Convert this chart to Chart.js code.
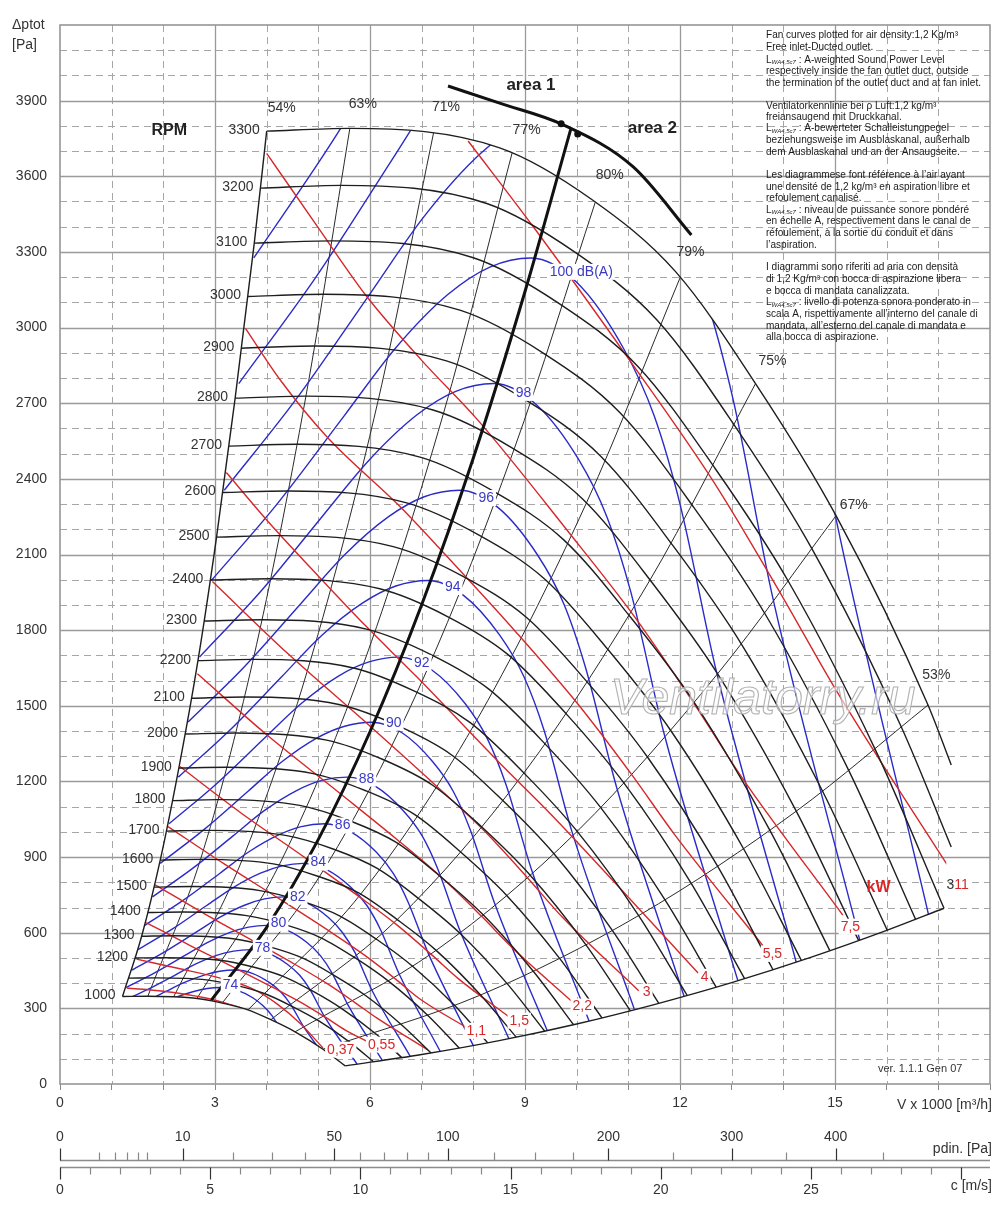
<!DOCTYPE html>
<html>
<head>
<meta charset="utf-8">
<title>Fan performance curves</title>
<script src="https://cdn.jsdelivr.net/npm/chart.js@4.4.1/dist/chart.umd.min.js"></script>
<style>
  html, body { margin: 0; padding: 0; background: #fff; }
  #wrap { width: 1000px; height: 1208px; }
</style>
</head>
<body>
<div id="wrap"><canvas id="fanChart" width="1000" height="1208"></canvas></div>
<script>
// Fan curve diagram: V x 1000 [m3/h] against total pressure [Pa]

// ---- axis ticks ----
const flowTicks = [0, 3, 6, 9, 12, 15];
const pressureTicks = [0, 300, 600, 900, 1200, 1500, 1800, 2100, 2400, 2700, 3000, 3300, 3600, 3900];
const pdinMajor = [0, 10, 50, 100, 200, 300, 400];
const pdinMinor = [1, 2, 3, 4, 5, 20, 30, 40, 60, 70, 80, 90, 125, 150, 175, 250, 350, 450];
const speedLabels = [0, 5, 10, 15, 20, 25];

// ---- fan speed curves (rpm) ----
const rpmValues = [1000, 1100, 1200, 1300, 1400, 1500, 1600, 1700, 1800, 1900, 2000, 2100,
                   2200, 2300, 2400, 2500, 2600, 2700, 2800, 2900, 3000, 3100, 3200, 3300];
const rpmCurves = [
  [[1.21,347],[1.70,348],[2.58,341],[3.12,322],[3.61,296],[4.09,254],[4.55,207],[5.09,138],[5.52,72]],
  [[1.33,420],[1.87,421],[2.84,413],[3.43,390],[3.97,358],[4.50,307],[5.01,250],[5.60,167],[6.07,88]],
  [[1.45,500],[2.04,501],[3.10,491],[3.74,464],[4.33,426],[4.91,366],[5.46,298],[6.11,199],[6.62,104]],
  [[1.58,586],[2.21,588],[3.35,576],[4.06,544],[4.69,500],[5.32,429],[5.92,350],[6.62,233],[7.18,123]],
  [[1.70,680],[2.38,682],[3.61,668],[4.37,631],[5.05,580],[5.73,498],[6.37,406],[7.13,270],[7.73,142]],
  [[1.82,781],[2.55,783],[3.87,767],[4.68,725],[5.42,666],[6.14,572],[6.83,466],[7.64,311],[8.28,163]],
  [[1.94,888],[2.72,891],[4.13,873],[4.99,824],[5.78,758],[6.54,650],[7.28,530],[8.14,353],[8.83,186]],
  [[2.06,1003],[2.89,1006],[4.39,985],[5.30,931],[6.14,855],[6.95,734],[7.74,598],[8.65,399],[9.38,210]],
  [[2.18,1124],[3.06,1128],[4.64,1105],[5.62,1043],[6.50,959],[7.36,823],[8.19,671],[9.16,447],[9.94,235]],
  [[2.30,1253],[3.23,1256],[4.90,1231],[5.93,1162],[6.86,1069],[7.77,917],[8.65,747],[9.67,498],[10.49,262]],
  [[2.42,1388],[3.40,1392],[5.16,1364],[6.24,1288],[7.22,1184],[8.18,1016],[9.10,828],[10.18,552],[11.04,290]],
  [[2.55,1530],[3.57,1535],[5.42,1504],[6.55,1420],[7.58,1305],[8.59,1120],[9.56,913],[10.69,609],[11.59,320]],
  [[2.67,1679],[3.74,1684],[5.68,1650],[6.86,1558],[7.94,1433],[9.00,1229],[10.01,1002],[11.20,668],[12.14,351]],
  [[2.79,1836],[3.91,1841],[5.93,1804],[7.18,1703],[8.30,1566],[9.41,1344],[10.47,1095],[11.71,730],[12.70,384]],
  [[2.91,1999],[4.08,2004],[6.19,1964],[7.49,1855],[8.66,1705],[9.82,1463],[10.92,1192],[12.22,795],[13.25,418]],
  [[3.03,2169],[4.25,2175],[6.45,2131],[7.80,2013],[9.03,1850],[10.23,1588],[11.38,1294],[12.73,863],[13.80,453]],
  [[3.15,2346],[4.42,2352],[6.71,2305],[8.11,2177],[9.39,2001],[10.63,1717],[11.83,1399],[13.23,933],[14.35,490]],
  [[3.27,2530],[4.59,2537],[6.97,2486],[8.42,2347],[9.75,2158],[11.04,1852],[12.29,1509],[13.74,1006],[14.90,529]],
  [[3.39,2720],[4.76,2728],[7.22,2673],[8.74,2524],[10.11,2321],[11.45,1991],[12.74,1623],[14.25,1082],[15.46,568]],
  [[3.51,2918],[4.93,2927],[7.48,2868],[9.05,2708],[10.47,2489],[11.86,2136],[13.20,1741],[14.76,1161],[16.01,610]],
  [[3.64,3123],[5.10,3132],[7.74,3069],[9.36,2898],[10.83,2664],[12.27,2286],[13.65,1863],[15.27,1242],[16.56,653]],
  [[3.76,3335],[5.27,3344],[8.00,3277],[9.67,3094],[11.19,2845],[12.68,2441],[14.11,1989],[15.78,1326],[17.11,697]],
  [[3.88,3553],[5.44,3564],[8.26,3492],[9.98,3297],[11.55,3031],[13.09,2601],[14.56,2120],[16.29,1413],[17.25,940]],
  [[4.00,3779],[5.61,3790],[8.51,3713],[10.30,3507],[11.91,3223],[13.50,2766],[15.02,2254],[16.80,1503],[17.25,1265]]
];

// lower limit of the field (system curve)
const lowerLimit = [[5.52,72],[7.0,117],[8.5,172],[10.0,238],[11.5,315],[13.0,402],[14.5,500],[16.0,609],[17.11,697]];

// ---- efficiency lines ----
const effLabels = ['54%', '63%', '71%', '77%', '80%', '79%', '75%', '67%', '53%'];
const leftLimit = [[1.21,347],[1.58,586],[1.94,888],[2.30,1253],[2.67,1679],[3.03,2169],[3.39,2720],[3.76,3335],[4.00,3779]];
const effLines = [
  [[1.70,348],[2.72,891],[3.74,1684],[4.76,2728],[5.61,3790]],
  [[2.20,346],[3.52,886],[4.84,1675],[6.16,2713],[7.23,3772]],
  [[2.65,339],[4.24,868],[5.83,1641],[7.42,2658],[8.75,3692]],
  [[3.14,321],[5.02,822],[6.91,1553],[8.79,2518],[10.36,3497]],
  [[3.64,294],[5.82,753],[8.01,1423],[10.19,2305],[12.01,3202]],
  [[4.08,255],[6.53,653],[8.98,1234],[11.42,1999],[13.46,2777]],
  [[4.55,207],[7.28,530],[10.01,1002],[12.74,1630],[15.02,2254]],
  [[5.09,138],[8.14,353],[11.20,668],[14.25,1082],[16.80,1503]]
];

// ---- sound power level curves, dB(A) ----
const dbLevels = [74, 76, 78, 80, 82, 84, 86, 88, 90, 92, 94, 96, 98, 100, 102, 104, 106];
const dbLabelText = ['74', '', '78', '80', '82', '84', '86', '88', '90', '92', '94', '96', '98', '100 dB(A)', '', '', ''];
const dbCurves = [
  [[1.00,234],[1.44,269],[1.88,310],[2.22,342],[2.57,366],[2.85,379],[3.12,383],[3.42,372],[3.73,342],[3.93,310],[4.11,269],[4.34,192],[4.87,57]],
  [[1.09,276],[1.56,317],[2.04,366],[2.41,403],[2.79,432],[3.09,447],[3.39,452],[3.72,439],[4.05,403],[4.27,366],[4.46,317],[4.72,226],[5.29,67]],
  [[1.18,325],[1.69,374],[2.22,431],[2.62,475],[3.03,510],[3.36,527],[3.68,533],[4.04,518],[4.40,475],[4.64,431],[4.84,374],[5.12,267],[5.75,79]],
  [[1.28,383],[1.84,442],[2.41,509],[2.85,561],[3.29,601],[3.65,622],[4.00,629],[4.38,611],[4.78,561],[5.04,509],[5.26,442],[5.57,315],[6.24,93]],
  [[1.39,452],[2.00,521],[2.62,600],[3.09,661],[3.57,709],[3.96,734],[4.34,742],[4.76,720],[5.19,661],[5.47,600],[5.71,521],[6.04,371],[6.78,109]],
  [[1.51,533],[2.17,614],[2.84,708],[3.36,780],[3.88,836],[4.30,865],[4.71,875],[5.17,849],[5.63,780],[5.94,708],[6.20,614],[6.56,438],[7.36,129]],
  [[1.64,629],[2.36,725],[3.09,835],[3.65,920],[4.21,986],[4.67,1021],[5.12,1032],[5.61,1002],[6.12,920],[6.45,835],[6.73,725],[7.13,517],[8.00,152]],
  [[1.79,742],[2.56,854],[3.35,984],[3.96,1085],[4.57,1163],[5.07,1204],[5.56,1217],[6.10,1181],[6.64,1085],[7.01,984],[7.31,854],[7.74,609],[8.69,179]],
  [[1.94,875],[2.78,1008],[3.64,1161],[4.30,1279],[4.96,1371],[5.51,1419],[6.04,1435],[6.62,1393],[7.21,1279],[7.61,1161],[7.94,1008],[8.41,718],[9.43,212]],
  [[2.11,1032],[3.02,1189],[3.95,1370],[4.67,1509],[5.39,1618],[5.98,1674],[6.56,1693],[7.19,1643],[7.84,1509],[8.27,1370],[8.63,1189],[9.13,848],[10.24,250]],
  [[2.29,1217],[3.28,1402],[4.29,1615],[5.07,1780],[5.86,1908],[6.50,1975],[7.12,1997],[7.81,1938],[8.51,1780],[8.98,1615],[9.37,1402],[9.91,1000],[11.12,294]],
  [[2.48,1436],[3.56,1653],[4.66,1905],[5.51,2099],[6.36,2250],[7.05,2329],[7.73,2355],[8.48,2286],[9.24,2099],[9.75,1905],[10.17,1653],[10.77,1179],[12.08,347]],
  [[2.70,1693],[3.87,1950],[5.06,2247],[5.99,2476],[6.91,2654],[7.66,2747],[8.40,2778],[9.21,2696],[10.04,2476],[10.59,2247],[11.05,1950],[11.69,1391],[13.12,410]],
  [[2.93,1997],[4.20,2300],[5.50,2650],[6.50,2920],[7.50,3130],[8.32,3240],[9.12,3276],[10.00,3180],[10.90,2920],[11.50,2650],[12.00,2300],[12.70,1640],[14.25,483]],
  [[3.18,2355],[4.56,2713],[5.97,3125],[7.06,3444],[8.15,3692],[9.04,3821],[9.90,3864],[10.86,3750],[11.84,3444],[12.49,3125],[13.03,2713],[13.79,1934],[15.48,570]],
  [[3.46,2778],[4.95,3199],[6.49,3686],[7.67,4062],[8.85,4354],[9.81,4507],[10.76,4557],[11.79,4423],[12.86,4062],[13.56,3686],[14.15,3199],[14.98,2281],[16.81,672]],
  [[3.75,3276],[5.38,3773],[7.04,4347],[8.33,4790],[9.61,5135],[10.66,5315],[11.68,5374],[12.81,5217],[13.96,4790],[14.73,4347],[15.37,3773],[16.27,2690],[18.25,792]]
];

// ---- absorbed power lines, kW ----
const kwLabels = ['', '0,37', '0,55', '', '1,1', '1,5', '2,2', '3', '4', '5,5', '7,5', '11'];
const kwLines = [
  [[1.29,381],[2.00,368],[2.80,342],[3.52,302]],
  [[1.48,495],[2.30,458],[3.10,420],[3.70,380],[4.20,318],[4.65,240],[5.09,143]],
  [[1.67,640],[2.51,550],[3.39,460],[4.10,385],[4.67,323],[5.15,263],[5.53,213],[5.95,168]],
  [[1.84,790],[2.79,676],[3.76,565],[4.55,474],[5.18,397],[5.71,323],[6.13,262],[7.12,135]],
  [[2.09,1021],[3.17,874],[4.27,731],[5.17,612],[5.88,513],[6.49,417],[6.96,338],[7.90,220]],
  [[2.32,1259],[3.51,1074],[4.74,898],[5.73,752],[6.52,631],[7.19,513],[7.72,416],[8.68,268]],
  [[2.66,1627],[3.99,1387],[5.38,1159],[6.51,972],[7.41,815],[8.17,663],[8.77,537],[9.92,325]],
  [[2.95,1993],[4.42,1705],[5.97,1425],[7.22,1194],[8.22,1002],[9.06,815],[9.73,660],[11.20,370]],
  [[3.22,2425],[4.00,2237],[5.03,2008],[5.93,1814],[6.90,1616],[8.51,1273],[9.50,1070],[10.71,805],[12.35,440]],
  [[3.59,2997],[4.26,2793],[5.16,2568],[6.58,2290],[7.30,2134],[8.84,1789],[10.05,1500],[11.09,1220],[11.90,988],[13.60,550]],
  [[4.00,3691],[5.00,3395],[5.93,3125],[7.00,2870],[8.10,2630],[9.80,2200],[11.15,1845],[12.30,1500],[13.20,1215],[15.15,670]],
  [[7.90,3740],[9.20,3389],[11.13,2840],[12.67,2382],[13.97,1937],[15.00,1569],[17.28,835]]
];

// ---- area 1 / area 2 divide ----
const areaDivide = [[2.93,333],[4.0,621],[5.0,970],[6.0,1397],[7.0,1901],[8.0,2483],[9.0,3143],[9.89,3790]];
const areaArc = [[7.51,3958],[8.51,3890],[9.74,3804],[11.09,3638],[12.22,3367]];
const arcMarks = [[9.70,3808],[10.02,3768]];

// ---- label anchors (left edge, vertical middle), chart units ----
const effLabelAt = [[4.02,3872],[5.59,3887],[7.20,3875],[8.76,3784],[10.37,3606],[11.93,3299],[13.52,2865],[15.09,2297],[16.69,1623]];
const dbLabelAt = [[3.15,393],null,[3.77,540],[4.08,636],[4.45,743],[4.85,878],[5.32,1025],[5.78,1211],[6.31,1433],
                   [6.85,1670],[7.45,1971],[8.10,2324],[8.82,2741],[9.48,3221],null,null,null];
const kwLabelAt = [null,[5.17,136],[5.96,156],null,[7.87,211],[8.70,251],[9.92,307],[11.28,366],[12.40,425],[13.60,516],[15.11,624],[17.31,787]];

const noteLines = [
  [35.7, 'Fan curves plotted for air density:1,2 Kg/m³'],
  [47.7, 'Free inlet-Ducted outlet.'],
  [59.8, '§ : A-weighted Sound Power Level'],
  [71.3, 'respectively inside the fan outlet duct, outside'],
  [82.8, 'the termination of the outlet duct and at fan inlet.'],
  [106.5, 'Ventilatorkennlinie bei ρ Luft:1,2 kg/m³'],
  [117.5, 'freiansaugend mit Druckkanal.'],
  [128.5, '§ : A-bewerteter Schalleistungpegel'],
  [140.0, 'beziehungsweise im Ausblaskanal, außerhalb'],
  [152.5, 'dem Ausblaskanal und an der Ansaugseite.'],
  [175.5, 'Les diagrammese font référence à l’air ayant'],
  [186.8, 'une densité de 1,2 kg/m³ en aspiration libre et'],
  [198.3, 'refoulement canalisé.'],
  [210.0, '§ : niveau de puissance sonore pondéré'],
  [221.7, 'en échelle A, respectivement dans le canal de'],
  [233.3, 'réfoulement, à la sortie du conduit et dans'],
  [245.0, 'l’aspiration.'],
  [267.7, 'I diagrammi sono riferiti ad aria con densità'],
  [279.3, 'di 1,2 Kg/m³ con bocca di aspirazione libera'],
  [291.0, 'e bocca di mandata canalizzata.'],
  [302.7, '§ : livello di potenza sonora ponderato in'],
  [314.3, 'scala A, rispettivamente all’interno del canale di'],
  [326.0, 'mandata, all’esterno del canale di mandata e'],
  [337.3, 'alla bocca di aspirazione.']
];

const FONT = '"Liberation Sans", Arial, Helvetica, sans-serif';
const BLACK = '#1e1e1e';
const BLUE = '#2b2bc8';
const BLUE_TXT = '#3a3ac4';
const RED = '#d6282a';
const GREY_TXT = '#333333';

Chart.defaults.font.family = FONT;

// ---- datasets ----
const datasets = [];
const IDX = {};

function addSeries(points, style) {
  datasets.push(Object.assign({
    data: points.map(p => ({ x: p[0], y: p[1] })),
    xAxisID: 'x',
    yAxisID: 'y',
    borderWidth: 1.4,
    pointRadius: 0,
    fill: false,
    cubicInterpolationMode: 'monotone'
  }, style));
  return datasets.length - 1;
}

effLines.forEach(pts => addSeries(pts, { borderColor: '#2a2a2a', borderWidth: 1, order: 60, clipField: true }));
dbCurves.forEach(pts => addSeries(pts, { borderColor: BLUE, order: 50, clipField: true }));
kwLines.forEach(pts => addSeries(pts, { borderColor: RED, order: 40, clipField: true }));
rpmCurves.forEach((pts, i) => {
  const k = addSeries(pts, { borderColor: BLACK, order: 30 });
  if (i === 0) IDX.low = k;
  if (i === rpmCurves.length - 1) IDX.high = k;
});
IDX.lower = addSeries(lowerLimit, { borderColor: BLACK, order: 30 });
IDX.left = addSeries(leftLimit, { borderColor: BLACK, order: 30 });
addSeries(areaDivide, { borderColor: '#111', borderWidth: 3, order: 10 });
addSeries(areaArc, { borderColor: '#111', borderWidth: 3, order: 10 });
addSeries(arcMarks, { showLine: false, pointRadius: 3.5, pointBackgroundColor: '#111', pointBorderWidth: 0, order: 5 });

// ---- helpers for drawing ----
function addPath(chart, idx, reverse, move) {
  const ctx = chart.ctx;
  const meta = chart.getDatasetMeta(idx);
  const line = meta.dataset;
  try {
    line.updateControlPoints(chart.chartArea, 'x');
    line.pathSegment(ctx, line.segments[0], { move: move, reverse: reverse });
  } catch (e) {
    const pts = meta.data.slice();
    if (reverse) pts.reverse();
    pts.forEach((p, i) => {
      if (i === 0 && move) ctx.moveTo(p.x, p.y);
      else ctx.lineTo(p.x, p.y);
    });
  }
}

// outline of the working field, used to clip the iso-lines
function traceField(chart) {
  const ctx = chart.ctx;
  ctx.beginPath();
  addPath(chart, IDX.low, false, true);
  addPath(chart, IDX.lower, false, false);
  addPath(chart, IDX.high, true, false);
  addPath(chart, IDX.left, true, false);
  ctx.closePath();
}

function drawGrid(chart) {
  const { ctx, chartArea: a, scales: { x, y } } = chart;
  ctx.save();
  for (let v = 1; v < 18; v++) {
    const px = Math.round(x.getPixelForValue(v)) + 0.5;
    const major = v % 3 === 0;
    ctx.setLineDash(major ? [] : [7, 5]);
    ctx.strokeStyle = major ? '#9a9a9a' : '#a6a6a6';
    ctx.lineWidth = major ? 1.3 : 1;
    ctx.beginPath(); ctx.moveTo(px, a.top); ctx.lineTo(px, a.bottom); ctx.stroke();
  }
  for (let v = 100; v < 4200; v += 100) {
    const py = Math.round(y.getPixelForValue(v)) + 0.5;
    const major = v % 300 === 0;
    ctx.setLineDash(major ? [] : [7, 5]);
    ctx.strokeStyle = major ? '#9a9a9a' : '#a6a6a6';
    ctx.lineWidth = major ? 1.3 : 1;
    ctx.beginPath(); ctx.moveTo(a.left, py); ctx.lineTo(a.right, py); ctx.stroke();
  }
  ctx.setLineDash([]);
  ctx.strokeStyle = '#969696';
  ctx.lineWidth = 1.6;
  ctx.strokeRect(a.left, a.top, a.right - a.left, a.bottom - a.top);
  ctx.restore();
}

function boxText(ctx, text, px, py, color) {
  const w = ctx.measureText(text).width;
  ctx.fillStyle = '#fff';
  ctx.fillRect(px - 2, py - 8, w + 4, 16);
  ctx.fillStyle = color;
  ctx.fillText(text, px, py);
}

function drawLabels(chart) {
  const { ctx, scales: { x, y } } = chart;
  const X = v => x.getPixelForValue(v);
  const Y = v => y.getPixelForValue(v);
  ctx.save();
  ctx.textBaseline = 'middle';
  ctx.textAlign = 'left';

  // watermark
  ctx.font = 'italic 50px ' + FONT;
  ctx.lineWidth = 1.1;
  ctx.fillStyle = 'rgba(255,255,255,0.6)';
  ctx.strokeStyle = 'rgba(170,170,170,0.9)';
  ctx.fillText('Ventilatorry.ru', 610, 700, 322);
  ctx.strokeText('Ventilatorry.ru', 610, 700, 322);

  // sound level labels
  ctx.font = '14px ' + FONT;
  dbLabelText.forEach((t, i) => {
    const p = dbLabelAt[i];
    if (t && p) boxText(ctx, t, X(p[0]), Y(p[1]), BLUE_TXT);
  });

  // power labels
  kwLabels.forEach((t, i) => {
    const p = kwLabelAt[i];
    if (t && p) boxText(ctx, t, X(p[0]), Y(p[1]), RED);
  });
  ctx.fillStyle = GREY_TXT;
  ctx.fillText('3', X(17.16), Y(790));
  ctx.font = 'bold 16px ' + FONT;
  ctx.fillStyle = RED;
  ctx.fillText('kW', X(15.61), Y(779));

  // efficiency labels
  ctx.font = '14px ' + FONT;
  ctx.fillStyle = GREY_TXT;
  effLabels.forEach((t, i) => {
    const p = effLabelAt[i];
    ctx.fillText(t, X(p[0]), Y(p[1]));
  });

  // rpm labels
  ctx.textAlign = 'right';
  rpmValues.forEach((v, i) => {
    if (v === 1100) return;
    const p = rpmCurves[i][0];
    ctx.fillText(String(v), X(p[0]) - 7, Y(p[1]) - 1);
  });

  ctx.textAlign = 'left';
  ctx.font = 'bold 16px ' + FONT;
  ctx.fillStyle = '#222';
  ctx.fillText('RPM', X(1.77), Y(3781));
  ctx.font = 'bold 17px ' + FONT;
  ctx.fillText('area 1', X(8.64), Y(3962));
  ctx.fillText('area 2', X(10.99), Y(3790));

  ctx.font = '11px ' + FONT;
  ctx.fillStyle = GREY_TXT;
  ctx.fillText('ver. 1.1.1 Gen 07', 878, 1069);
  ctx.restore();
}

function drawNotes(chart) {
  const ctx = chart.ctx;
  ctx.save();
  ctx.font = '10px ' + FONT;
  const sx = 215 / ctx.measureText('the termination of the outlet duct and at fan inlet.').width;
  ctx.fillStyle = '#1a1a1a';
  ctx.textBaseline = 'middle';
  ctx.textAlign = 'left';
  noteLines.forEach(([py, text]) => {
    ctx.save();
    ctx.translate(766, py);
    ctx.scale(sx, 1);
    let cx = 0;
    let rest = text;
    if (rest.charAt(0) === '§') {
      ctx.font = '10px ' + FONT;
      ctx.fillText('L', 0, 0);
      cx = ctx.measureText('L').width;
      ctx.font = 'italic 6px ' + FONT;
      ctx.fillText('WA4,5c7', cx, 2.5);
      cx += ctx.measureText('WA4,5c7').width;
      rest = rest.slice(1);
    }
    ctx.font = '10px ' + FONT;
    ctx.fillText(rest, cx, 0);
    ctx.restore();
  });
  ctx.restore();
}

function drawAxisTitles(chart) {
  const ctx = chart.ctx;
  ctx.save();
  ctx.fillStyle = GREY_TXT;
  ctx.textBaseline = 'middle';
  ctx.font = '14px ' + FONT;
  ctx.textAlign = 'left';
  ctx.fillText('\u0394ptot', 12, 25);
  ctx.fillText('[Pa]', 12, 45);
  ctx.textAlign = 'right';
  ctx.fillText('V x 1000 [m³/h]', 992, 1105);
  ctx.restore();
}

function drawExtraAxes(chart) {
  const ctx = chart.ctx;
  const cs = chart.scales.c;
  const C = v => cs.getPixelForValue(v);
  const yP = 1160.5, yC = 1167.5;
  const left = C(0), right = chart.chartArea.right;
  ctx.save();
  ctx.strokeStyle = '#8c8c8c';
  ctx.lineWidth = 1.6;
  ctx.beginPath();
  ctx.moveTo(left, yP); ctx.lineTo(right, yP);
  ctx.moveTo(left, yC); ctx.lineTo(right, yC);
  ctx.stroke();

  // dynamic pressure: pdin = 0.6 * c^2
  ctx.lineWidth = 1.2;
  ctx.strokeStyle = '#333';
  pdinMajor.forEach(p => {
    const px = Math.round(C(Math.sqrt(p / 0.6))) + 0.5;
    ctx.beginPath(); ctx.moveTo(px, yP - 12); ctx.lineTo(px, yP); ctx.stroke();
  });
  ctx.strokeStyle = '#888';
  pdinMinor.forEach(p => {
    const px = Math.round(C(Math.sqrt(p / 0.6))) + 0.5;
    ctx.beginPath(); ctx.moveTo(px, yP - 8); ctx.lineTo(px, yP); ctx.stroke();
  });

  // velocity ticks
  for (let v = 0; v <= 30; v++) {
    const px = Math.round(C(v)) + 0.5;
    const major = v % 5 === 0;
    ctx.strokeStyle = major ? '#333' : '#888';
    ctx.beginPath(); ctx.moveTo(px, yC); ctx.lineTo(px, yC + (major ? 12 : 7)); ctx.stroke();
  }

  ctx.fillStyle = GREY_TXT;
  ctx.font = '14px ' + FONT;
  ctx.textBaseline = 'middle';
  ctx.textAlign = 'center';
  pdinMajor.forEach(p => ctx.fillText(String(p), C(Math.sqrt(p / 0.6)), 1137));
  speedLabels.forEach(v => ctx.fillText(String(v), C(v), 1190));
  ctx.textAlign = 'right';
  ctx.fillText('pdin. [Pa]', 992, 1149);
  ctx.fillText('c [m/s]', 992, 1186);
  ctx.restore();
}

const fanPlugin = {
  id: 'fanDecor',
  beforeDatasetsDraw(chart) { drawGrid(chart); },
  beforeDatasetDraw(chart, args) {
    const ds = chart.data.datasets[args.index];
    if (ds.clipField) {
      chart.ctx.save();
      traceField(chart);
      chart.ctx.clip();
    }
  },
  afterDatasetDraw(chart, args) {
    const ds = chart.data.datasets[args.index];
    if (ds.clipField) chart.ctx.restore();
  },
  afterDatasetsDraw(chart) { drawLabels(chart); },
  afterDraw(chart) {
    drawNotes(chart);
    drawAxisTitles(chart);
    drawExtraAxes(chart);
  }
};

new Chart(document.getElementById('fanChart'), {
  type: 'line',
  data: { datasets: datasets },
  options: {
    responsive: false,
    animation: false,
    events: [],
    parsing: false,
    layout: { padding: { top: 25, right: 10, left: 0, bottom: 0 } },
    plugins: { legend: { display: false }, tooltip: { enabled: false } },
    scales: {
      x: {
        type: 'linear',
        min: 0,
        max: 18,
        afterFit: s => { s.height = 124; },
        border: { display: false },
        grid: { drawOnChartArea: false, drawTicks: true, tickLength: 6, color: '#888' },
        ticks: {
          stepSize: 1,
          autoSkip: false,
          maxRotation: 0,
          padding: 5,
          color: GREY_TXT,
          font: { size: 14 },
          callback: v => flowTicks.includes(v) ? String(v) : ''
        }
      },
      y: {
        type: 'linear',
        min: 0,
        max: 4200,
        afterFit: s => { s.width = 60; },
        border: { display: false },
        grid: { drawOnChartArea: false, drawTicks: false },
        ticks: {
          stepSize: 300,
          autoSkip: false,
          padding: 13,
          color: GREY_TXT,
          font: { size: 14 },
          callback: v => pressureTicks.includes(v) ? String(v) : ''
        }
      },
      c: {
        type: 'linear',
        axis: 'x',
        position: 'bottom',
        min: 0,
        max: 30.96,
        display: false
      }
    }
  },
  plugins: [fanPlugin]
});
</script>
</body>
</html>
